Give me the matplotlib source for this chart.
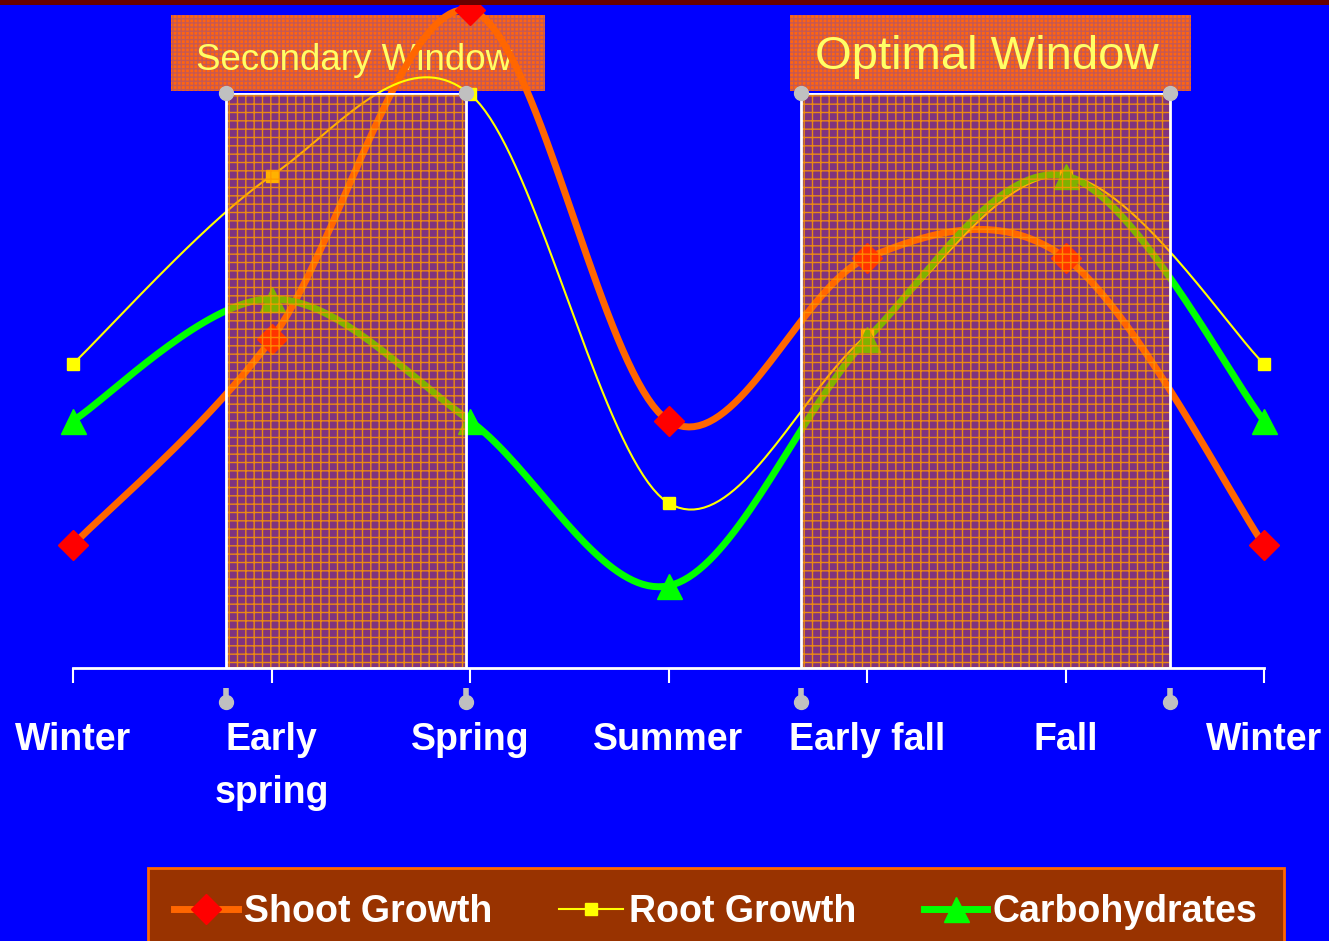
import numpy as np
import matplotlib
matplotlib.use("Agg")
import matplotlib.pyplot as plt
from matplotlib.patches import Rectangle
from matplotlib.lines import Line2D

seasons = ["Winter", "Early\nspring", "Spring", "Summer", "Early fall", "Fall", "Winter"]
shoot = [2.14, 5.72, 11.44, 4.30, 7.13, 7.13, 2.14]
root = [5.29, 8.56, 9.98, 2.87, 5.79, 8.56, 5.29]
carbs = [4.30, 6.42, 4.30, 1.43, 5.72, 8.56, 4.30]

# window edges (x in season units) and label boxes
secondary = (0.771, 1.980)
optimal = (3.668, 5.526)
sec_box = (0.494, 2.378)
opt_box = (3.612, 5.632)

BLUE = "#0000FF"
plt.rcParams["font.family"] = ["Liberation Sans", "DejaVu Sans"]
plt.rcParams["hatch.linewidth"] = 1.0


def smooth(ys, n=40):
    # catmull-rom through the points, like excel's smoothed line
    p = np.array([[i, y] for i, y in enumerate(ys)], dtype=float)
    p = np.vstack([p[0], p, p[-1]])
    out = []
    for i in range(1, len(p) - 2):
        p0, p1, p2, p3 = p[i - 1], p[i], p[i + 1], p[i + 2]
        t = np.linspace(0, 1, n)[:, None]
        m1 = (p2 - p0) / 2
        m2 = (p3 - p1) / 2
        h00 = 2*t**3 - 3*t**2 + 1
        h10 = t**3 - 2*t**2 + t
        h01 = -2*t**3 + 3*t**2
        h11 = t**3 - t**2
        out.append(h00*p1 + h10*m1 + h01*p2 + h11*m2)
    c = np.vstack(out)
    return c[:, 0], c[:, 1]


fig = plt.figure(figsize=(13.29, 9.41), dpi=100, facecolor=BLUE)
ax = fig.add_axes([73/1329, (941-668)/941, (1264-73)/1329, (668-93)/941])
ax.set_facecolor(BLUE)
ax.patch.set_alpha(0)
ax.set_xlim(0, 6)
ax.set_ylim(0, 10)
for s in ["top", "left", "right"]:
    ax.spines[s].set_visible(False)
ax.spines["bottom"].set_color("white")
ax.spines["bottom"].set_linewidth(2)
ax.set_yticks([])
x = np.arange(len(seasons))
ax.set_xticks(x)
ax.set_xticklabels(seasons, fontsize=27, fontweight="bold", color="white")
for lbl in ax.get_xticklabels():
    lbl.set_linespacing(1.6)
ax.tick_params(axis="x", length=11, width=1.5, color="white", pad=28)

# lines
series = [
    (shoot, "#FF6600", 5, "D", "#FF0000", 15, "Shoot Growth"),
    (root, "#FFFF00", 1.5, "s", "#FFFF00", 9, "Root Growth"),
    (carbs, "#00FF00", 5, "^", "#00FF00", 18, "Carbohydrates"),
]
handles = []
for ys, lc, lw, mk, mc, ms, name in series:
    sx, sy = smooth(ys)
    ax.plot(sx, sy, color=lc, lw=lw, zorder=3, clip_on=False, solid_capstyle="round")
    ax.plot(x, ys, ls="none", marker=mk, ms=ms, mfc=mc, mec=mc, zorder=3.5, clip_on=False)
    handles.append(Line2D([], [], color=lc, lw=lw, marker=mk, ms=ms, mfc=mc, mec=mc, label=name))

# shaded windows drawn over the lines
for a, b in [secondary, optimal]:
    ax.add_patch(Rectangle((a, 0), b - a, 10, facecolor=(1, 0.4, 0, 0.5),
                           edgecolor=(1, 0.6, 0, 0.85), hatch="++", lw=0, zorder=4))
    ax.add_patch(Rectangle((a, 0), b - a, 10, facecolor="none",
                           edgecolor="white", lw=2, zorder=4.5))

# grey drop markers at the window edges
edges = [secondary[0], secondary[1], optimal[0], optimal[1]]
ax.plot(edges, [10]*4, ls="none", marker="o", ms=10, color="#C0C0C0", zorder=5, clip_on=False)
ax.vlines(edges, -0.35, -0.55, color="#C0C0C0", lw=4, zorder=5, clip_on=False)
ax.plot(edges, [-0.59]*4, ls="none", marker="o", ms=10, color="#C0C0C0", zorder=5, clip_on=False)

# window label boxes (under the lines)
for (a, b), txt, fs, ty in [(sec_box, "Secondary Window", 26.5, 10.57),
                            (opt_box, "Optimal Window", 34, 10.63)]:
    ax.add_patch(Rectangle((a, 10.03), b - a, 1.33, facecolor="#FF6410",
                           edgecolor=(0.5, 0.3, 0.65, 0.45), hatch="++++", lw=0,
                           zorder=2, clip_on=False))
    ax.text((a + b) / 2 - 0.02, ty, txt, color="#FFFF66", fontsize=fs,
            ha="center", va="center", zorder=2.5, clip_on=False)

# dark red band along the top
fig.add_artist(Rectangle((0, 1 - 5/941), 1, 5/941, transform=fig.transFigure,
                         facecolor="#660000", edgecolor="none"))

leg = ax.legend(handles=handles, loc="upper left", ncol=3, mode="expand",
                bbox_to_anchor=(148/1329, 1 - 868/941 - 0.01, 1136/1329, 0.01),
                bbox_transform=fig.transFigure, borderaxespad=0,
                prop={"size": 27, "weight": "bold"}, handlelength=1.7, handletextpad=0.15,
                borderpad=0.7, fancybox=False, framealpha=1)
leg.get_frame().set_facecolor("#993300")
leg.get_frame().set_edgecolor("#FF6600")
leg.get_frame().set_linewidth(2)
for t in leg.get_texts():
    t.set_color("white")

fig.savefig("out.png", dpi=100, facecolor=BLUE)
